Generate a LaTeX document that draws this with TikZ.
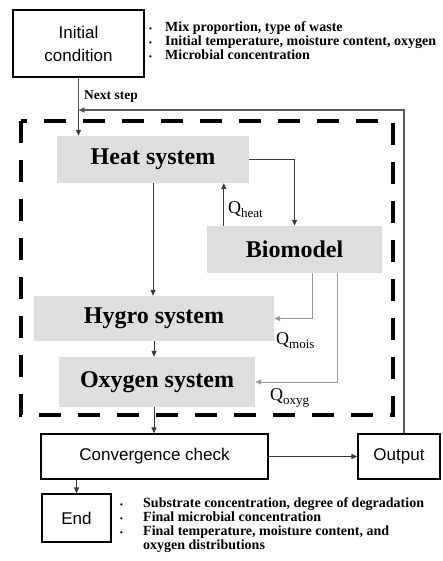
\documentclass[tikz,border=0pt]{standalone}
\usepackage{fontspec}
\setmainfont{Liberation Serif}
\setsansfont{Liberation Sans}
\usetikzlibrary{arrows.meta,calc}

\definecolor{boxgray}{HTML}{DEDEDE}
\definecolor{linedark}{HTML}{3A3A3A}
\definecolor{linelight}{HTML}{9A9A9A}

\newcommand{\qsub}[1]{Q{\fontsize{13}{13}\selectfont\raisebox{-4pt}{#1}}}
\newcommand{\bul}[1]{\makebox[#1][l]{\fontsize{8}{8}\selectfont\textbullet}}

\begin{document}
\begin{tikzpicture}[
  x=1pt, y=-1pt,
  sysbox/.style={rectangle, fill=boxgray, inner sep=0pt, font=\fontsize{24}{26}\selectfont\bfseries},
  stepbox/.style={rectangle, draw, line width=1.2pt, align=center, inner sep=0pt, font=\fontsize{17}{23}\selectfont\sffamily},
  arrow/.style={-{Triangle[length=6pt,width=5pt]}, line width=1pt, draw=linedark},
  qarrow/.style={-{Triangle[length=6pt,width=5pt]}, line width=1pt, draw=linelight},
  loop/.style={line width=1.4pt, draw=gray!70!black},
  qlabel/.style={anchor=west, inner sep=0pt, font=\fontsize{18}{18}\selectfont},
  bullets/.style={anchor=north west, inner sep=0pt, align=left, font=\fontsize{14}{14}\selectfont\bfseries},
  dashbox/.style={line width=4.5pt, dash pattern=on 22pt off 17pt},
]
\useasboundingbox (0,0) rectangle (442,561);

% === INPUT ===
\node[stepbox, minimum width=131pt, minimum height=67pt] (init) at (78.5,43.5) {Initial\\condition};
\node[bullets] (inlist) at (149,21) {%
  \bul{16pt}Mix proportion, type of waste\\
  \bul{16pt}Initial temperature, moisture content, oxygen\\
  \bul{16pt}Microbial concentration};

% === COUPLED SYSTEMS ===
\draw[dashbox] (21,121) rectangle (393,415);

\node[sysbox, minimum width=192pt, minimum height=47pt] (heat) at (153,159.5) {Heat system};
\node[sysbox, minimum width=175pt, minimum height=47pt] (bio) at (294.5,249.5) {Biomodel};
\node[sysbox, minimum width=240pt, minimum height=45pt] (hygro) at (154,318.5) {Hygro system};
\node[sysbox, minimum width=196pt, minimum height=50pt] (oxy) at (157,382) {Oxygen system};

% === CHECK AND OUTPUT ===
\node[stepbox, minimum width=227pt, minimum height=45pt] (conv) at (154.5,456.5) {Convergence check};
\node[stepbox, minimum width=82pt, minimum height=45pt] (out) at (399,456.5) {Output};
\node[stepbox, minimum width=69pt, minimum height=48pt] (end) at (76.5,518) {End};
\node[bullets] (outlist) at (120,497) {%
  \bul{23pt}Substrate concentration, degree of degradation\\
  \bul{23pt}Final microbial concentration\\
  \bul{23pt}Final temperature, moisture content, and\\
  \makebox[23pt][l]{}oxygen distributions};

% === CONNECTORS ===
\coordinate (nxt) at (init.south |- 0,110);
\coordinate (up) at ([xshift=5pt]out.north);
\coordinate (qh) at ([xshift=17pt]bio.north west);
\coordinate (qm) at ([xshift=-70pt]bio.south east);
\coordinate (qo) at ([xshift=-45pt]bio.south east);

\draw[loop] (init.south) -- (nxt);
\draw[arrow] (nxt) -- (init.south |- heat.north);
\draw[loop, -{Triangle[length=6pt,width=5pt]}] (up) |- (nxt);
\node[anchor=west, inner sep=0pt, font=\fontsize{13.5}{14}\selectfont\bfseries] (nstep) at (84,97) {Next step};

\draw[arrow] (heat.east) -| (bio.north);
\draw[arrow] (qh) -- (qh |- heat.south);
\node[qlabel] (qheat) at (228,210) {\qsub{heat}};
\draw[arrow] (heat.south) -- (heat.south |- hygro.north);
\draw[qarrow] (qm) |- (hygro.east);
\node[qlabel] (qmois) at (276,341) {\qsub{mois}};
\draw[arrow] (hygro.south) -- (hygro.south |- oxy.north);
\draw[qarrow] (qo) |- (oxy.east);
\node[qlabel] (qoxyg) at (270,398) {\qsub{oxyg}};

\draw[arrow] (hygro.south |- oxy.south) -- (hygro.south |- conv.north);
\draw[arrow] (conv.east) -- (out.west);
\draw[arrow] (end.north |- conv.south) -- (end.north);
\end{tikzpicture}
\end{document}
